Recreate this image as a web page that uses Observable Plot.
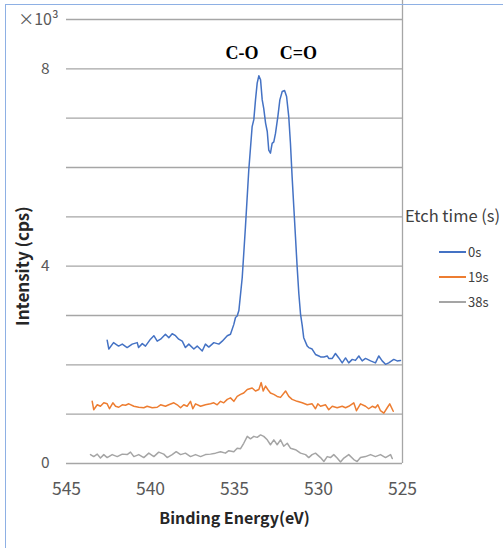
<!DOCTYPE html>
<html>
<head>
<meta charset="utf-8">
<script src="https://cdn.jsdelivr.net/npm/d3@7"></script>
<script src="https://cdn.jsdelivr.net/npm/@observablehq/plot@0.6"></script>
<style>
  html, body { margin: 0; padding: 0; background: #fff; }
  #wrap { position: relative; width: 503px; height: 548px; overflow: hidden; font-family: "Noto Sans CJK JP", "Noto Sans", sans-serif; }
  #frame { position: absolute; left: 5px; top: 4px; width: 700px; height: 700px; border-left: 1.5px solid #8eb0e4; border-top: 1.5px solid #8eb0e4; pointer-events: none; }
  #chart { position: absolute; left: 0; top: 0; }
  #legend { position: absolute; left: 405px; top: 204px; color: #404040; }
  #legend .title { font-size: 16.5px; line-height: 23px; white-space: nowrap; }
  #legend .item { position: absolute; left: 34px; font-size: 13px; color: #404040; display: flex; align-items: center; white-space: nowrap; }
  #legend .swatch { width: 27px; height: 2px; margin-right: 2px; }
</style>
</head>
<body>
<div id="wrap">
  <div id="chart"></div>
  <div id="frame"></div>
  <div id="legend"></div>
</div>
<script>
// ---- data (intensity in ×10^3 cps) ----
const seriesNames = ["0s", "19s", "38s"];
const seriesColors = ["#4472c4", "#ed7d31", "#a5a5a5"];
const legendTitle = "Etch time (s)";

const e0 = [542.58,542.48,542.20,541.90,541.68,541.39,541.09,540.79,540.71,540.49,
540.30,540.00,539.80,539.60,539.40,539.11,538.91,538.71,538.51,538.32,
538.11,537.92,537.72,537.42,537.22,536.92,536.73,536.53,536.23,535.93,
535.73,535.43,535.24,535.04,534.94,534.84,534.74,534.54,534.35,534.15,
533.95,533.85,533.75,533.65,533.55,533.45,533.35,533.26,533.15,533.05,
532.96,532.86,532.76,532.66,532.56,532.42,532.30,532.16,532.02,531.90,
531.77,531.67,531.57,531.47,531.37,531.27,531.17,531.07,530.97,530.88,
530.67,530.58,530.38,530.18,529.98,529.88,529.68,529.48,529.39,529.18,
528.99,528.79,528.59,528.39,528.20,527.99,527.80,527.60,527.40,527.20,
526.90,526.61,526.41,526.21,526.01,525.82,525.52,525.32,525.12];
const i0 = [2.50,2.32,2.45,2.38,2.42,2.35,2.42,2.45,2.35,2.43,
2.38,2.52,2.59,2.48,2.52,2.62,2.55,2.63,2.59,2.52,
2.48,2.35,2.42,2.32,2.38,2.28,2.42,2.36,2.45,2.42,
2.48,2.59,2.62,2.82,2.96,2.99,3.10,3.77,4.79,5.95,
6.83,6.97,7.37,7.71,7.86,7.78,7.37,7.20,6.90,6.73,
6.35,6.29,6.49,6.52,6.69,7.03,7.37,7.54,7.56,7.44,
7.03,6.49,5.81,5.20,4.59,3.98,3.44,3.03,2.80,2.55,
2.38,2.35,2.32,2.21,2.18,2.16,2.16,2.18,2.13,2.13,
2.23,2.14,2.04,2.14,2.04,2.11,2.09,2.18,2.08,2.13,
2.08,2.04,2.18,2.08,2.01,2.04,2.11,2.08,2.09];

const e19 = [543.47,543.38,543.17,542.98,542.78,542.58,542.44,542.24,542.08,541.89,
541.68,541.49,541.29,540.99,540.70,540.40,540.20,539.90,539.60,539.40,
539.11,538.91,538.61,538.41,538.21,538.02,537.82,537.62,537.48,537.32,
537.02,536.73,536.43,536.23,536.03,535.83,535.64,535.43,535.24,535.04,
534.84,534.64,534.45,534.24,533.95,533.75,533.55,533.41,533.29,533.15,
533.02,532.86,532.66,532.46,532.26,531.96,531.77,531.57,531.27,530.97,
530.67,530.38,530.18,530.04,529.88,529.58,529.39,529.18,528.89,528.59,
528.39,528.20,527.90,527.74,527.50,527.20,527.01,526.80,526.61,526.47,
526.31,526.11,525.91,525.76,525.55];
const i19 = [1.26,1.09,1.19,1.16,1.23,1.21,1.11,1.23,1.16,1.14,
1.19,1.18,1.21,1.16,1.14,1.13,1.16,1.13,1.14,1.19,
1.16,1.19,1.23,1.19,1.13,1.19,1.16,1.26,1.11,1.21,
1.16,1.19,1.21,1.23,1.19,1.26,1.23,1.30,1.33,1.26,
1.36,1.40,1.43,1.50,1.53,1.47,1.50,1.64,1.47,1.57,
1.50,1.43,1.40,1.36,1.34,1.47,1.36,1.30,1.26,1.23,
1.19,1.21,1.11,1.21,1.16,1.19,1.09,1.16,1.13,1.16,
1.13,1.16,1.23,1.07,1.21,1.16,1.11,1.16,1.13,1.19,
1.07,1.02,1.13,1.21,1.06];

const e38 = [543.57,543.38,543.17,542.98,542.78,542.58,542.28,541.98,541.68,541.39,
541.19,540.99,540.70,540.40,540.10,539.80,539.51,539.21,539.01,538.71,
538.47,538.21,537.92,537.62,537.32,537.02,536.73,536.43,536.13,535.83,
535.54,535.34,535.04,534.84,534.64,534.45,534.24,534.05,533.85,533.65,
533.45,533.26,533.05,532.86,532.66,532.46,532.26,532.07,531.86,531.67,
531.37,531.07,530.77,530.58,530.38,530.18,529.88,529.68,529.48,529.29,
529.09,528.89,528.69,528.49,528.20,527.90,527.70,527.50,527.20,526.90,
526.61,526.31,526.01,525.71,525.61];
const i38 = [0.18,0.14,0.19,0.11,0.18,0.12,0.18,0.14,0.19,0.18,
0.23,0.14,0.18,0.12,0.21,0.14,0.23,0.19,0.12,0.18,
0.24,0.18,0.21,0.14,0.18,0.14,0.18,0.19,0.21,0.24,
0.21,0.26,0.24,0.31,0.30,0.41,0.55,0.50,0.55,0.53,
0.58,0.55,0.48,0.38,0.48,0.38,0.48,0.35,0.41,0.31,
0.28,0.21,0.18,0.12,0.18,0.21,0.12,0.04,0.14,0.12,
0.18,0.11,0.03,0.11,0.18,0.08,0.04,0.12,0.14,0.18,
0.14,0.18,0.12,0.18,0.10];

const xTicks = [545, 540, 535, 530, 525];
const yTickLabels = [0, 4, 8];
const yGrid = [0, 1, 2, 3, 4, 5, 6, 7, 8, 9];
const yExponentLabel = "×10³";
const xTitle = "Binding Energy(eV)";
const yTitle = "Intensity (cps)";
const annLabels = ["C-O", "C=O"];
const annX = [534.55, 531.2];
const annY = [8.31, 8.31];

// ---- build ----
const energies = [e0, e19, e38];
const intensities = [i0, i19, i38];
const rows = [];
seriesNames.forEach((s, k) => {
  energies[k].forEach((e, j) => rows.push({series: s, energy: e, intensity: intensities[k][j]}));
});
const annRows = annLabels.map((t, k) => ({text: t, x: annX[k], y: annY[k]}));

const chart = Plot.plot({
  width: 503,
  height: 548,
  marginLeft: 66,
  marginRight: 101,
  marginTop: 19,
  marginBottom: 85,
  style: {fontFamily: '"Noto Sans CJK JP", "Noto Sans", sans-serif', background: "transparent", overflow: "visible"},
  x: {domain: [545, 525]},
  y: {domain: [0, 9]},
  color: {domain: seriesNames, range: seriesColors},
  marks: [
    Plot.ruleY(yGrid, {stroke: "#a6a6a6", strokeWidth: 1.3}),
    Plot.ruleX([525], {stroke: "#a6a6a6", strokeWidth: 1.3, insetTop: -19}),
    Plot.axisX(xTicks, {tickSize: 0, tickPadding: 19, fontSize: 17.5, fill: "#595959", label: null}),
    Plot.axisY(yTickLabels, {tickSize: 0, tickPadding: 17, fontSize: 15.5, fill: "#595959", label: null}),
    Plot.text([yExponentLabel], {x: 545, y: 9, text: d => d, dx: -8, textAnchor: "end", fontSize: 16, fill: "#595959"}),
    Plot.text([xTitle], {x: 535, y: 0, text: d => d, dy: 55, fontSize: 16, fontWeight: "bold", fill: "#262626", letterSpacing: "0.5px"}),
    Plot.text([yTitle], {x: 545, y: 4, text: d => d, dx: -43, rotate: -90, fontSize: 17, fontWeight: "bold", fill: "#262626", letterSpacing: "1.5px"}),
    Plot.line(rows, {x: "energy", y: "intensity", z: "series", stroke: "series", strokeWidth: 1.5, curve: "linear"}),
    Plot.text(annRows, {x: "x", y: "y", text: "text", fontFamily: '"Liberation Serif", serif', fontWeight: "bold", fontSize: 18, fill: "#000"})
  ]
});
document.getElementById("chart").appendChild(chart);

// legend
const leg = document.getElementById("legend");
const t = document.createElement("div");
t.className = "title";
t.textContent = legendTitle;
leg.appendChild(t);
seriesNames.forEach((s, k) => {
  const it = document.createElement("div");
  it.className = "item";
  it.style.top = (38 + 25 * k) + "px";
  const sw = document.createElement("span");
  sw.className = "swatch";
  sw.style.background = seriesColors[k];
  const lb = document.createElement("span");
  lb.textContent = s;
  it.appendChild(sw);
  it.appendChild(lb);
  leg.appendChild(it);
});
</script>
</body>
</html>
